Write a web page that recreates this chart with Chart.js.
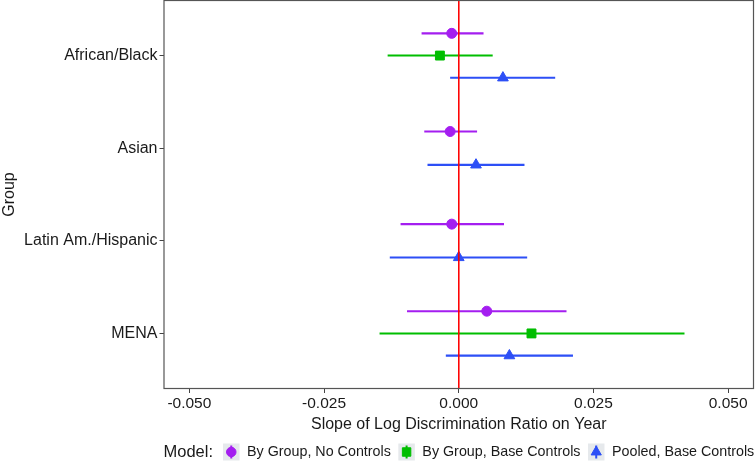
<!DOCTYPE html>
<html><head><meta charset="utf-8">
<script src="https://cdn.jsdelivr.net/npm/chart.js@4/dist/chart.umd.min.js"></script>
<style>html,body{margin:0;padding:0;background:#fff;}canvas{display:block;}</style>
</head><body>
<canvas id="c" width="756" height="470"></canvas>
<script>
// ---- data ----
const groups = ['African/Black', 'Asian', 'Latin Am./Hispanic', 'MENA'];
const models = ['By Group, No Controls', 'By Group, Base Controls', 'Pooled, Base Controls'];
const xTicks = [-0.05, -0.025, 0, 0.025, 0.05];

const estNoControls = [-0.0013, -0.0016, -0.0013, 0.0052];
const loNoControls  = [-0.0069, -0.0064, -0.0108, -0.0096];
const hiNoControls  = [ 0.0046,  0.0034,  0.0084,  0.0200];

const estBaseControls = [-0.0035, null, null, 0.0135];
const loBaseControls  = [-0.0132, null, null, -0.0147];
const hiBaseControls  = [ 0.0063, null, null,  0.0419];

const estPooled = [0.0082, 0.0032, 0.0000, 0.0094];
const loPooled  = [-0.0016, -0.0058, -0.0128, -0.0024];
const hiPooled  = [0.0179, 0.0122, 0.0127, 0.0212];

// ---- styles ----
const colors = ['#A41EF0', '#00BE00', '#2D4FF6'];
const shapes = ['circle', 'rect', 'triangle'];
const radii = [5.0, 6.3, 6.2];
const FONT = "'Liberation Sans', Arial, Helvetica, sans-serif";

const est = [estNoControls, estBaseControls, estPooled];
const lo = [loNoControls, loBaseControls, loPooled];
const hi = [hiNoControls, hiBaseControls, hiPooled];

const dodgeWidth = 0.72;
function dodgeY(gi, mi) {
  const present = models.map((m, k) => est[k][gi] != null ? k : -1).filter(k => k >= 0);
  const n = present.length;
  const pos = present.indexOf(mi);
  return gi + (pos - (n - 1) / 2) * dodgeWidth / n;
}

const datasets = [];
models.forEach((m, mi) => {
  const bars = [];
  groups.forEach((g, gi) => {
    if (est[mi][gi] == null) return;
    const y = dodgeY(gi, mi);
    bars.push({x: lo[mi][gi], y: y}, {x: hi[mi][gi], y: y}, {x: null, y: null});
  });
  datasets.push({
    label: m + ' CI', data: bars, showLine: true, spanGaps: false,
    borderColor: colors[mi], borderWidth: 2.1, pointRadius: 0, order: 3
  });
});
models.forEach((m, mi) => {
  const pts = [];
  groups.forEach((g, gi) => {
    if (est[mi][gi] == null) return;
    pts.push({x: est[mi][gi], y: dodgeY(gi, mi)});
  });
  datasets.push({
    label: m, data: pts, showLine: false,
    pointStyle: shapes[mi], pointRadius: radii[mi],
    backgroundColor: colors[mi], borderColor: colors[mi], borderWidth: 1, order: 2
  });
});
// vertical reference line at zero
datasets.push({
  label: 'zero', data: [{x: 0, y: -0.6}, {x: 0, y: 3.6}], showLine: true,
  borderColor: '#FF0000', borderWidth: 1, pointRadius: 0, order: 1
});

const boxPlugin = {
  id: 'panelBox',
  afterDatasetsDraw(chart) {
    const a = chart.chartArea, ctx = chart.ctx;
    ctx.save();
    ctx.strokeStyle = '#555555';
    ctx.lineWidth = 1.2;
    ctx.strokeRect(a.left + 0.5, a.top + 0.5, a.right - a.left - 1, a.bottom - a.top - 1);
    ctx.restore();
  }
};

const legendPlugin = {
  id: 'ggLegend',
  afterDraw(chart) {
    const ctx = chart.ctx;
    const cy = 452;
    ctx.save();
    ctx.fillStyle = '#1a1a1a';
    ctx.textBaseline = 'middle';
    ctx.textAlign = 'left';
    ctx.font = '16.5px ' + FONT;
    let x = 163.5;
    ctx.fillText('Model:', x, cy);
    x += ctx.measureText('Model:').width + 10;
    ctx.font = '14.3px ' + FONT;
    const kw = 16.5, kh = 17;
    models.forEach((m, mi) => {
      ctx.fillStyle = '#E6E9EC';
      ctx.fillRect(x, cy - kh / 2, kw, kh);
      const kx = x + kw / 2;
      ctx.strokeStyle = colors[mi];
      ctx.lineWidth = 2;
      ctx.beginPath(); ctx.moveTo(kx, cy - 6.5); ctx.lineTo(kx, cy + 6.5); ctx.stroke();
      ctx.fillStyle = colors[mi];
      ctx.strokeStyle = colors[mi];
      ctx.lineWidth = 1;
      Chart.helpers.drawPoint(ctx, {pointStyle: shapes[mi], radius: radii[mi] * 0.95, borderWidth: 1, rotation: 0}, kx, cy);
      x += kw + 7.5;
      ctx.fillStyle = '#1a1a1a';
      ctx.fillText(m, x, cy);
      x += ctx.measureText(m).width + 7.5;
    });
    ctx.restore();
  }
};

function zeroPad(s) { s.paddingTop = 0; s.paddingBottom = 0; s.paddingLeft = 0; s.paddingRight = 0; }

new Chart(document.getElementById('c'), {
  type: 'scatter',
  data: {datasets},
  options: {
    responsive: false, animation: false, devicePixelRatio: 1,
    layout: {autoPadding: false, padding: {top: 0, right: 2, left: 0, bottom: 31}},
    plugins: {legend: {display: false}, tooltip: {enabled: false}},
    scales: {
      x: {
        type: 'linear', min: -0.0548, max: 0.0548,
        afterBuildTicks: s => { s.ticks = xTicks.map(v => ({value: v})); },
        afterFit: s => { s.height = 50; zeroPad(s); },
        ticks: {
          callback: v => v.toFixed(3), color: '#1a1a1a', padding: 1,
          font: {family: FONT, size: 15.5}, maxRotation: 0, autoSkip: false
        },
        grid: {display: true, drawOnChartArea: false, drawTicks: true, tickLength: 4, color: '#444', lineWidth: 1},
        border: {display: false},
        title: {display: true, text: 'Slope of Log Discrimination Ratio on Year', color: '#1a1a1a',
          font: {family: FONT, size: 16}, padding: {top: 0, bottom: 5}}
      },
      y: {
        type: 'linear', min: -0.6, max: 3.6, reverse: true,
        afterBuildTicks: s => { s.ticks = groups.map((g, i) => ({value: i})); },
        afterFit: s => { s.width = 163.5; zeroPad(s); },
        ticks: {
          callback: v => groups[v], color: '#1a1a1a', padding: 2,
          font: {family: FONT, size: 16}, autoSkip: false
        },
        grid: {display: true, drawOnChartArea: false, drawTicks: true, tickLength: 4, color: '#444', lineWidth: 1},
        border: {display: false},
        title: {display: true, text: 'Group', color: '#1a1a1a',
          font: {family: FONT, size: 16}, padding: {top: 0, bottom: 0}}
      }
    }
  },
  plugins: [boxPlugin, legendPlugin]
});
</script>
</body></html>
